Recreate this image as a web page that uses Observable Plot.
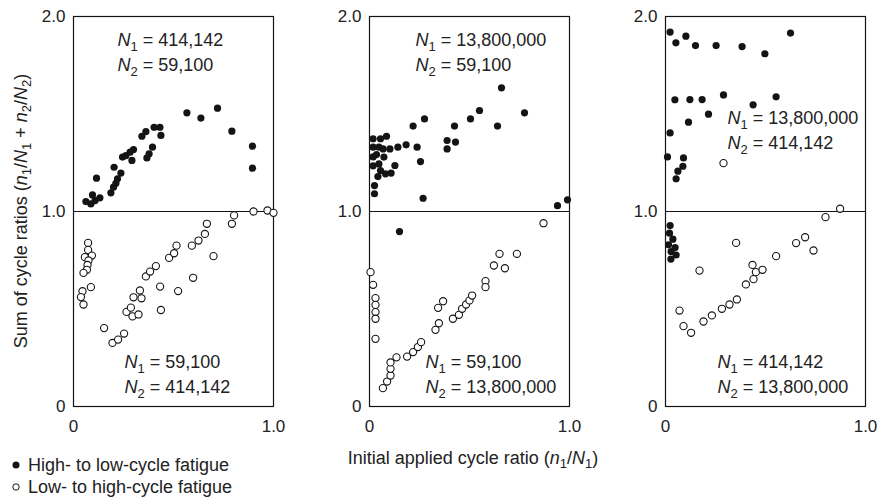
<!DOCTYPE html>
<html>
<head>
<meta charset="utf-8">
<script src="https://cdn.jsdelivr.net/npm/d3@7"></script>
<script src="https://cdn.jsdelivr.net/npm/@observablehq/plot@0.6"></script>
<style>
  body { margin: 0; background: #fff; font-family: "Liberation Sans", Arial, Helvetica, sans-serif; color: #222; }
  #chart { position: relative; width: 877px; height: 498px; overflow: hidden; }
  .panel { position: absolute; top: 0; }
  .lbl { position: absolute; white-space: nowrap; font-size: 18px; line-height: 22px; color: #222; }
  .lbl i { font-style: italic; }
  .lbl sub { font-size: 0.72em; vertical-align: -0.3em; line-height: 0; }
  #ylabel { left: 21px; top: 211px; transform: translate(-50%, -50%) rotate(-90deg); }
  #xlabel { left: 473px; top: 447px; transform: translateX(-50%); }
  #legend { left: 10px; top: 454px; font-size: 18px; }
  #legend div { height: 22px; line-height: 22px; display: flex; align-items: center; }
  #legend svg { margin-right: 6px; }
</style>
</head>
<body>
<div id="chart"></div>
<script>
// ---- data ----
const xTicks = [0, 1];
const xTickLabels = ["0", "1.0"];
const yTicks = [0, 1, 2];
const yTickLabels = ["0", "1.0", "2.0"];

const seriesNames = ["High- to low-cycle fatigue", "Low- to high-cycle fatigue"];

// Panel 1: top N1=414,142 N2=59,100 ; bottom N1=59,100 N2=414,142
const p1High = [
  [0.062,1.051],[0.087,1.039],[0.095,1.085],[0.108,1.056],[0.132,1.070],[0.115,1.171],
  [0.187,1.096],[0.200,1.125],[0.212,1.145],[0.220,1.168],[0.203,1.227],[0.237,1.197],
  [0.245,1.279],[0.262,1.287],[0.283,1.304],[0.300,1.318],[0.292,1.262],
  [0.342,1.386],[0.362,1.410],[0.367,1.275],[0.378,1.296],[0.395,1.330],
  [0.403,1.432],[0.432,1.432],[0.437,1.390],
  [0.567,1.506],[0.637,1.479],[0.720,1.530],[0.792,1.412],[0.895,1.335],[0.895,1.222]
];
const p1Low = [
  [0.073,0.839],[0.073,0.803],[0.057,0.766],[0.092,0.774],[0.075,0.749],[0.070,0.726],
  [0.067,0.701],[0.050,0.685],[0.087,0.612],[0.045,0.591],[0.037,0.561],[0.050,0.523],
  [0.153,0.402],[0.195,0.326],[0.223,0.343],[0.253,0.374],[0.265,0.485],[0.287,0.507],
  [0.295,0.462],[0.325,0.472],[0.300,0.560],[0.332,0.595],[0.340,0.555],[0.362,0.667],
  [0.383,0.692],[0.412,0.720],[0.433,0.615],[0.437,0.495],[0.478,0.762],[0.503,0.786],
  [0.515,0.825],[0.523,0.592],[0.592,0.825],[0.625,0.851],[0.657,0.885],[0.667,0.937],
  [0.598,0.660],[0.700,0.771],[0.792,0.937],[0.803,0.980],[0.900,1.000],[0.970,1.005],[1.000,0.993]
];
const p1Notes = [
  {x: 0.22, y: 1.877, t: "N_1 = 414,142"},
  {x: 0.22, y: 1.749, t: "N_2 = 59,100"},
  {x: 0.255, y: 0.226, t: "N_1 = 59,100"},
  {x: 0.255, y: 0.097, t: "N_2 = 414,142"}
];

// Panel 2: top N1=13,800,000 N2=59,100 ; bottom N1=59,100 N2=13,800,000
const p2High = [
  [0.018,1.373],[0.018,1.330],[0.018,1.280],[0.018,1.234],[0.025,1.133],[0.025,1.091],
  [0.055,1.373],[0.085,1.386],[0.047,1.330],[0.068,1.321],[0.102,1.321],[0.035,1.292],
  [0.072,1.279],[0.047,1.244],[0.055,1.210],[0.042,1.179],[0.080,1.193],[0.108,1.197],
  [0.127,1.236],[0.142,1.330],[0.183,1.342],[0.238,1.330],[0.255,1.256],[0.218,1.438],
  [0.275,1.475],[0.268,1.068],[0.150,0.897],[0.388,1.321],[0.388,1.364],[0.430,1.356],
  [0.425,1.438],[0.505,1.475],[0.550,1.518],[0.640,1.438],[0.660,1.634],[0.775,1.506],
  [0.940,1.030],[0.990,1.060]
];
const p2Low = [
  [0.005,0.689],[0.018,0.624],[0.030,0.556],[0.030,0.521],[0.030,0.484],[0.030,0.450],
  [0.030,0.347],[0.067,0.094],[0.088,0.128],[0.105,0.159],[0.105,0.193],[0.105,0.226],
  [0.135,0.252],[0.188,0.256],[0.218,0.279],[0.242,0.305],[0.258,0.330],
  [0.330,0.393],[0.347,0.427],[0.343,0.506],[0.368,0.540],[0.417,0.450],[0.447,0.470],
  [0.463,0.501],[0.483,0.523],[0.500,0.544],[0.513,0.569],[0.580,0.643],[0.580,0.612],
  [0.622,0.723],[0.650,0.783],[0.677,0.709],[0.737,0.783],[0.870,0.940]
];
const p2Notes = [
  {x: 0.23, y: 1.877, t: "N_1 = 13,800,000"},
  {x: 0.23, y: 1.749, t: "N_2 = 59,100"},
  {x: 0.28, y: 0.226, t: "N_1 = 59,100"},
  {x: 0.28, y: 0.097, t: "N_2 = 13,800,000"}
];

// Panel 3: top N1=13,800,000 N2=414,142 ; bottom N1=414,142 N2=13,800,000
const p3High = [
  [0.023,1.920],[0.052,1.865],[0.102,1.899],[0.150,1.851],[0.253,1.851],[0.383,1.846],
  [0.497,1.809],[0.625,1.915],[0.047,1.573],[0.122,1.574],[0.183,1.574],[0.290,1.598],
  [0.438,1.547],[0.553,1.588],[0.215,1.499],[0.115,1.458],[0.023,1.403],[0.010,1.280],
  [0.090,1.275],[0.087,1.232],[0.062,1.207],[0.053,1.168],
  [0.023,0.928],[0.020,0.889],[0.037,0.858],[0.015,0.829],[0.048,0.815],[0.028,0.795],
  [0.053,0.777],[0.027,0.756]
];
const p3Low = [
  [0.290,1.248],[0.873,1.014],[0.800,0.971],[0.353,0.839],[0.653,0.838],[0.698,0.868],
  [0.740,0.800],[0.553,0.771],[0.170,0.697],[0.435,0.726],[0.452,0.689],[0.485,0.701],
  [0.440,0.653],[0.402,0.626],[0.357,0.549],[0.320,0.523],[0.282,0.501],[0.232,0.467],
  [0.190,0.436],[0.070,0.492],[0.090,0.412],[0.128,0.378]
];
const p3Notes = [
  {x: 0.31, y: 1.477, t: "N_1 = 13,800,000"},
  {x: 0.31, y: 1.349, t: "N_2 = 414,142"},
  {x: 0.26, y: 0.226, t: "N_1 = 414,142"},
  {x: 0.26, y: 0.097, t: "N_2 = 13,800,000"}
];

// ---- drawing ----
const INK = "#141414";

function richify(svg) {
  d3.select(svg).selectAll("g[aria-label='text'] text").each(function () {
    const s = this.textContent;
    const m = s.match(/^([A-Za-z])_(\d)(.*)$/);
    if (!m) return;
    const t = d3.select(this);
    t.text("");
    t.append("tspan").attr("font-style", "italic").text(m[1]);
    t.append("tspan").attr("font-size", "13px").attr("dy", "5").text(m[2]);
    t.append("tspan").attr("dy", "-5").text(m[3]);
  });
}

function panel(high, low, notes) {
  const svg = Plot.plot({
    width: 252,
    height: 440,
    marginLeft: 40,
    marginRight: 12,
    marginTop: 16,
    marginBottom: 34,
    style: {fontFamily: '"Liberation Sans", Arial, Helvetica, sans-serif', fontSize: "17px", color: "#222", background: "transparent", overflow: "visible"},
    x: {domain: [0, 1], ticks: xTicks, tickFormat: d => xTickLabels[xTicks.indexOf(d)], tickSize: 0, tickPadding: 13, label: null},
    y: {domain: [0, 2], ticks: yTicks, tickFormat: d => yTickLabels[yTicks.indexOf(d)], tickSize: 0, tickPadding: 8, label: null},
    marks: [
      Plot.frame({stroke: INK, strokeWidth: 1.2}),
      Plot.ruleY([1], {stroke: INK, strokeWidth: 1.2}),
      Plot.dot(low, {x: d => d[0], y: d => d[1], r: 3.6, fill: "white", stroke: INK, strokeWidth: 1.1}),
      Plot.dot(high, {x: d => d[0], y: d => d[1], r: 3.6, fill: INK, stroke: "none"}),
      Plot.text(notes, {x: "x", y: "y", text: "t", textAnchor: "start", fontSize: 18, fill: "#222"})
    ]
  });
  richify(svg);
  return svg;
}

const chart = document.getElementById("chart");
const panels = [[p1High, p1Low, p1Notes, 33], [p2High, p2Low, p2Notes, 329], [p3High, p3Low, p3Notes, 625]];
for (const [h, l, n, left] of panels) {
  const wrap = document.createElement("div");
  wrap.className = "panel";
  wrap.style.left = left + "px";
  wrap.appendChild(panel(h, l, n));
  chart.appendChild(wrap);
}

const ylab = document.createElement("div");
ylab.className = "lbl"; ylab.id = "ylabel";
ylab.innerHTML = "Sum of cycle ratios (<i>n</i><sub>1</sub>/<i>N</i><sub>1</sub> + <i>n</i><sub>2</sub>/<i>N</i><sub>2</sub>)";
chart.appendChild(ylab);

const xlab = document.createElement("div");
xlab.className = "lbl"; xlab.id = "xlabel";
xlab.innerHTML = "Initial applied cycle ratio (<i>n</i><sub>1</sub>/<i>N</i><sub>1</sub>)";
chart.appendChild(xlab);

const legend = document.createElement("div");
legend.className = "lbl"; legend.id = "legend";
legend.innerHTML =
  `<div><svg width="12" height="12"><circle cx="6" cy="6" r="3.5" fill="${INK}"/></svg>${seriesNames[0]}</div>` +
  `<div><svg width="12" height="12"><circle cx="6" cy="6" r="3.2" fill="white" stroke="${INK}" stroke-width="1"/></svg>${seriesNames[1]}</div>`;
chart.appendChild(legend);
</script>
</body>
</html>
